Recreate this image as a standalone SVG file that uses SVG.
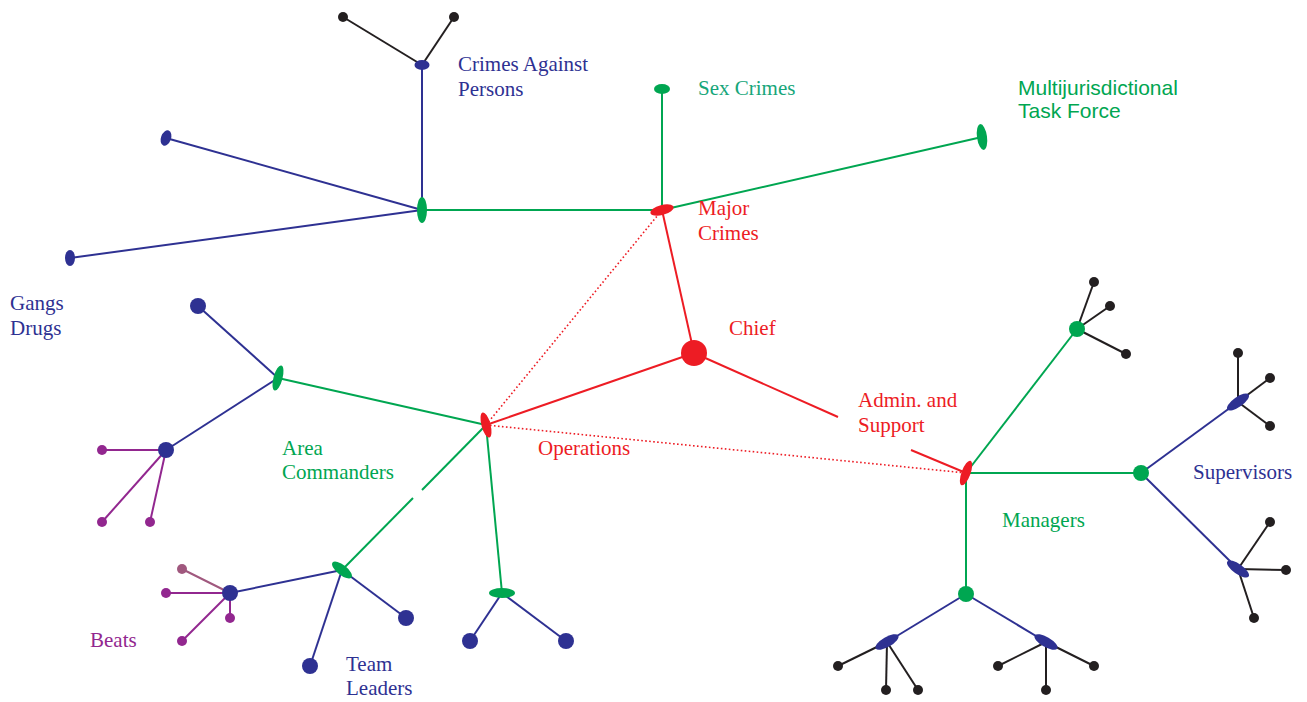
<svg xmlns="http://www.w3.org/2000/svg" width="1307" height="702" viewBox="0 0 1307 702">
<style>
.t{font-family:"Liberation Serif","Times New Roman",serif;font-size:21px}
.s{font-family:"Liberation Sans",Arial,sans-serif;font-size:21px}
.red{fill:#ed1c24}.grn{fill:#00a651}.blu{fill:#2e3192}.blk{fill:#231f20}.pur{fill:#92278f}.mav{fill:#a0587e}.teal{fill:#17a67a}
.lr{stroke:#ed1c24;stroke-width:2;fill:none}
.ld{stroke:#ed1c24;stroke-width:1.6;stroke-dasharray:1.6 2.4;fill:none}
.lg{stroke:#00a651;stroke-width:2;fill:none}
.lb{stroke:#2e3192;stroke-width:2;fill:none}
.lk{stroke:#231f20;stroke-width:2;fill:none}
.lp{stroke:#92278f;stroke-width:2;fill:none}
.lm{stroke:#a0587e;stroke-width:2;fill:none}
</style>
<rect width="1307" height="702" fill="#fff"/>
<g id="connectors">
<line class="lr" x1="694" y1="353" x2="662" y2="210"/>
<line class="lr" x1="694" y1="353" x2="486" y2="425"/>
<line class="lr" x1="694" y1="353" x2="838" y2="417"/>
<line class="lr" x1="911" y1="450" x2="966" y2="473"/>
<line class="ld" x1="486" y1="425" x2="662" y2="210"/>
<line class="ld" x1="486" y1="425" x2="966" y2="473"/>
<line class="lg" x1="662" y1="210" x2="662" y2="89"/>
<line class="lg" x1="662" y1="210" x2="982" y2="137"/>
<line class="lg" x1="662" y1="210" x2="422" y2="210"/>
<line class="lb" x1="422" y1="210" x2="422" y2="65"/>
<line class="lb" x1="422" y1="210" x2="166" y2="138"/>
<line class="lb" x1="422" y1="210" x2="70" y2="258"/>
<line class="lk" x1="422" y1="65" x2="343" y2="17"/>
<line class="lk" x1="422" y1="65" x2="454" y2="17"/>
<line class="lg" x1="486" y1="425" x2="278" y2="378"/>
<line class="lg" x1="486" y1="425" x2="422" y2="490"/>
<line class="lg" x1="413" y1="498" x2="342" y2="570"/>
<line class="lg" x1="486" y1="425" x2="502" y2="593"/>
<line class="lb" x1="278" y1="378" x2="198" y2="306"/>
<line class="lb" x1="278" y1="378" x2="166" y2="450"/>
<line class="lp" x1="166" y1="450" x2="102" y2="450"/>
<line class="lp" x1="166" y1="450" x2="102" y2="522"/>
<line class="lp" x1="166" y1="450" x2="150" y2="522"/>
<line class="lb" x1="342" y1="570" x2="230" y2="593"/>
<line class="lb" x1="342" y1="570" x2="310" y2="666"/>
<line class="lb" x1="342" y1="570" x2="406" y2="618"/>
<line class="lm" x1="230" y1="593" x2="182" y2="569"/>
<line class="lp" x1="230" y1="593" x2="166" y2="593"/>
<line class="lp" x1="230" y1="593" x2="230" y2="618"/>
<line class="lp" x1="230" y1="593" x2="182" y2="641"/>
<line class="lb" x1="502" y1="593" x2="470" y2="641"/>
<line class="lb" x1="502" y1="593" x2="566" y2="641"/>
<line class="lg" x1="966" y1="473" x2="1077" y2="329"/>
<line class="lg" x1="966" y1="473" x2="1141" y2="473"/>
<line class="lg" x1="966" y1="473" x2="966" y2="594"/>
<line class="lk" x1="1077" y1="329" x2="1094" y2="282"/>
<line class="lk" x1="1077" y1="329" x2="1110" y2="306"/>
<line class="lk" x1="1077" y1="329" x2="1126" y2="354"/>
<line class="lb" x1="1141" y1="473" x2="1238" y2="402"/>
<line class="lb" x1="1141" y1="473" x2="1238" y2="569"/>
<line class="lk" x1="1238" y1="402" x2="1238" y2="353"/>
<line class="lk" x1="1238" y1="402" x2="1270" y2="378"/>
<line class="lk" x1="1238" y1="402" x2="1270" y2="426"/>
<line class="lk" x1="1238" y1="569" x2="1270" y2="522"/>
<line class="lk" x1="1238" y1="569" x2="1286" y2="570"/>
<line class="lk" x1="1238" y1="569" x2="1254" y2="618"/>
<line class="lb" x1="966" y1="594" x2="887" y2="642"/>
<line class="lb" x1="966" y1="594" x2="1046" y2="642"/>
<line class="lk" x1="887" y1="642" x2="838" y2="666"/>
<line class="lk" x1="887" y1="642" x2="886" y2="690"/>
<line class="lk" x1="887" y1="642" x2="918" y2="690"/>
<line class="lk" x1="1046" y1="642" x2="998" y2="666"/>
<line class="lk" x1="1046" y1="642" x2="1046" y2="690"/>
<line class="lk" x1="1046" y1="642" x2="1094" y2="666"/>
</g>
<g id="chief"><circle class="red" cx="694" cy="353" r="13"/><text class="t red" x="729" y="335">Chief</text></g>
<g id="major-crimes"><ellipse class="red" cx="662" cy="210" rx="12" ry="5" transform="rotate(-15 662 210)"/><text class="t red" x="698" y="215">Major</text><text class="t red" x="698" y="240">Crimes</text></g>
<g id="operations"><ellipse class="red" cx="486" cy="425" rx="4.5" ry="13" transform="rotate(-15 486 425)"/><text class="t red" x="538" y="455">Operations</text></g>
<g id="admin"><ellipse class="red" cx="966" cy="473" rx="4.5" ry="13" transform="rotate(20 966 473)"/><text class="t red" x="858" y="407">Admin. and</text><text class="t red" x="858" y="432">Support</text></g>
<g id="sex-crimes"><ellipse class="grn" cx="662" cy="89" rx="8" ry="5"/><text class="t teal" x="698" y="95">Sex Crimes</text></g>
<g id="task-force"><ellipse class="grn" cx="982" cy="137" rx="5" ry="13" transform="rotate(-8 982 137)"/><text class="s grn" x="1018" y="95">Multijurisdictional</text><text class="s grn" x="1018" y="118">Task Force</text></g>
<g id="cap-hub"><ellipse class="grn" cx="422" cy="210" rx="5" ry="13"/></g>
<g id="crimes-against-persons"><ellipse class="blu" cx="422" cy="65" rx="7.5" ry="5"/><circle class="blk" cx="343" cy="17" r="5"/><circle class="blk" cx="454" cy="17" r="5"/><text class="t blu" x="458" y="71">Crimes Against</text><text class="t blu" x="458" y="96">Persons</text></g>
<g id="gangs"><ellipse class="blu" cx="166" cy="138" rx="5" ry="8" transform="rotate(20 166 138)"/></g>
<g id="drugs"><ellipse class="blu" cx="70" cy="258" rx="5" ry="8"/><text class="t blu" x="10" y="310">Gangs</text><text class="t blu" x="10" y="335">Drugs</text></g>
<g id="area-commander-1"><ellipse class="grn" cx="278" cy="378" rx="4.5" ry="13" transform="rotate(15 278 378)"/><text class="t grn" x="282" y="455">Area</text><text class="t grn" x="282" y="479">Commanders</text></g>
<g id="area-leader-1"><circle class="blu" cx="198" cy="306" r="8"/></g>
<g id="area-leader-2"><circle class="blu" cx="166" cy="450" r="8"/><circle class="pur" cx="102" cy="450" r="5"/><circle class="pur" cx="102" cy="522" r="5"/><circle class="pur" cx="150" cy="522" r="5"/></g>
<g id="area-commander-2"><ellipse class="grn" cx="342" cy="570" rx="12" ry="5" transform="rotate(38 342 570)"/></g>
<g id="team-leader-1"><circle class="blu" cx="230" cy="593" r="8"/><circle class="mav" cx="182" cy="569" r="5"/><circle class="pur" cx="166" cy="593" r="5"/><circle class="pur" cx="230" cy="618" r="5"/><circle class="pur" cx="182" cy="641" r="5"/><text class="t pur" x="90" y="647">Beats</text></g>
<g id="team-leader-2"><circle class="blu" cx="310" cy="666" r="8"/><text class="t blu" x="346" y="671">Team</text><text class="t blu" x="346" y="695">Leaders</text></g>
<g id="team-leader-3"><circle class="blu" cx="406" cy="618" r="8"/></g>
<g id="area-commander-3"><ellipse class="grn" cx="502" cy="593" rx="13" ry="5"/><circle class="blu" cx="470" cy="641" r="8"/><circle class="blu" cx="566" cy="641" r="8"/></g>
<g id="manager-1"><circle class="grn" cx="1077" cy="329" r="8"/><circle class="blk" cx="1094" cy="282" r="5"/><circle class="blk" cx="1110" cy="306" r="5"/><circle class="blk" cx="1126" cy="354" r="5"/></g>
<g id="manager-2"><circle class="grn" cx="1141" cy="473" r="8"/><text class="t blu" x="1193" y="479">Supervisors</text></g>
<g id="supervisor-1"><ellipse class="blu" cx="1238" cy="402" rx="13" ry="5" transform="rotate(-35 1238 402)"/><circle class="blk" cx="1238" cy="353" r="5"/><circle class="blk" cx="1270" cy="378" r="5"/><circle class="blk" cx="1270" cy="426" r="5"/></g>
<g id="supervisor-2"><ellipse class="blu" cx="1238" cy="569" rx="13" ry="5" transform="rotate(35 1238 569)"/><circle class="blk" cx="1270" cy="522" r="5"/><circle class="blk" cx="1286" cy="570" r="5"/><circle class="blk" cx="1254" cy="618" r="5"/></g>
<g id="manager-3"><circle class="grn" cx="966" cy="594" r="8"/><text class="t grn" x="1002" y="527">Managers</text></g>
<g id="supervisor-3"><ellipse class="blu" cx="887" cy="642" rx="13" ry="5" transform="rotate(-30 887 642)"/><circle class="blk" cx="838" cy="666" r="5"/><circle class="blk" cx="886" cy="690" r="5"/><circle class="blk" cx="918" cy="690" r="5"/></g>
<g id="supervisor-4"><ellipse class="blu" cx="1046" cy="642" rx="13" ry="5" transform="rotate(30 1046 642)"/><circle class="blk" cx="998" cy="666" r="5"/><circle class="blk" cx="1046" cy="690" r="5"/><circle class="blk" cx="1094" cy="666" r="5"/></g>
</svg>
